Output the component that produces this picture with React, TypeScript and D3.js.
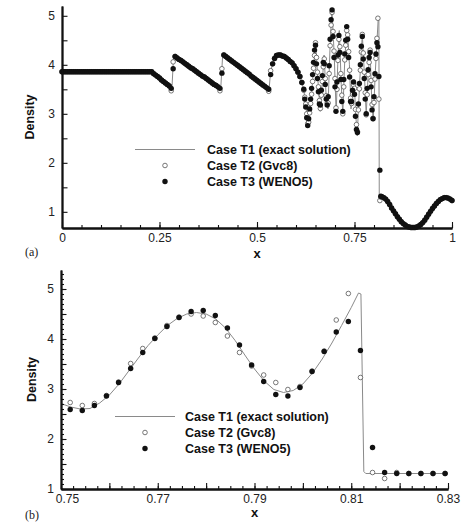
import React, { useEffect, useRef } from 'react';
import * as d3 from 'd3';

// ---------- panel (a): density over the whole tube ----------
// marker samples: head stretch every 0.005 from 0, shock-train stretch every 0.0025 from 0.62,
// tail stretch every 0.005 from 0.82
const headStart = 0, headStep = 0.005;
const midStart = 0.62, midStep = 0.0025;
const tailStart = 0.82, tailStep = 0.005;

const gvcHead = [
  3.857, 3.857, 3.857, 3.857, 3.857, 3.857, 3.857, 3.857, 3.857, 3.857,
  3.857, 3.857, 3.857, 3.857, 3.857, 3.857, 3.857, 3.857, 3.857, 3.857,
  3.857, 3.857, 3.857, 3.857, 3.857, 3.857, 3.857, 3.857, 3.857, 3.857,
  3.857, 3.857, 3.857, 3.857, 3.857, 3.857, 3.857, 3.857, 3.857, 3.857,
  3.857, 3.857, 3.857, 3.857, 3.857, 3.857, 3.857,
  3.82, 3.79, 3.76, 3.73, 3.69, 3.66, 3.63, 3.60, 3.57, 3.47, 4.06,
  4.17, 4.14, 4.11, 4.09, 4.06, 4.03, 4.00, 3.97, 3.94, 3.92, 3.89, 3.86,
  3.83, 3.80, 3.77, 3.75, 3.72, 3.69, 3.66, 3.63, 3.60, 3.58, 3.55, 3.47,
  3.92,
  4.20, 4.17, 4.14, 4.11, 4.08, 4.05, 4.02, 3.99, 3.96, 3.93, 3.90, 3.87,
  3.84, 3.81, 3.77, 3.74, 3.71, 3.68, 3.65, 3.62, 3.59, 3.56, 3.53, 3.46,
  3.88,
  4.02, 4.13, 4.19, 4.20, 4.20, 4.18, 4.17, 4.14, 4.11, 4.07, 4.04, 3.98,
  3.92, 3.85, 3.76, 3.64,
];
const wenoHead = [
  3.857, 3.857, 3.857, 3.857, 3.857, 3.857, 3.857, 3.857, 3.857, 3.857,
  3.857, 3.857, 3.857, 3.857, 3.857, 3.857, 3.857, 3.857, 3.857, 3.857,
  3.857, 3.857, 3.857, 3.857, 3.857, 3.857, 3.857, 3.857, 3.857, 3.857,
  3.857, 3.857, 3.857, 3.857, 3.857, 3.857, 3.857, 3.857, 3.857, 3.857,
  3.857, 3.857, 3.857, 3.857, 3.857, 3.857, 3.857,
  3.82, 3.79, 3.76, 3.73, 3.69, 3.66, 3.63, 3.60, 3.57, 3.52, 3.92,
  4.17, 4.14, 4.11, 4.09, 4.06, 4.03, 4.00, 3.97, 3.94, 3.92, 3.89, 3.86,
  3.83, 3.80, 3.77, 3.75, 3.72, 3.69, 3.66, 3.63, 3.60, 3.58, 3.55, 3.52,
  3.83,
  4.20, 4.17, 4.14, 4.11, 4.08, 4.05, 4.02, 3.99, 3.96, 3.93, 3.90, 3.87,
  3.84, 3.81, 3.77, 3.74, 3.71, 3.68, 3.65, 3.62, 3.59, 3.56, 3.53, 3.50,
  3.80,
  4.02, 4.13, 4.19, 4.20, 4.20, 4.18, 4.17, 4.14, 4.11, 4.07, 4.04, 3.98,
  3.92, 3.85, 3.76, 3.64,
];
const gvcMid = [
  3.48, 3.34, 3.20, 3.00, 2.80, 2.83, 3.02, 3.21, 3.40, 3.66,
  3.93, 4.19, 4.45, 4.15, 3.85, 3.55, 3.27, 3.11, 3.38, 3.66,
  3.96, 4.12, 3.72, 3.37, 3.22, 3.22, 3.82, 4.39, 4.81, 5.07,
  4.68, 4.28, 3.72, 3.12, 3.50, 4.09, 4.52, 4.37, 3.82, 3.38,
  3.00, 3.55, 4.10, 4.40, 4.70, 4.61, 4.27, 3.89, 3.32, 3.21,
  3.40, 3.59, 3.52, 3.09, 2.78, 2.64, 3.08, 3.51, 3.89, 4.26,
  4.62, 4.24, 3.85, 3.43, 2.98, 3.39, 3.80, 4.05, 4.30, 3.68,
  3.19, 2.91, 3.23, 3.71, 4.13, 4.54, 4.95, 3.30, 1.23, 1.30,
];
const wenoMid = [
  3.50, 3.30, 3.14, 2.92, 2.76, 2.90, 3.10, 3.30, 3.52, 3.80,
  4.05, 4.30, 4.40, 4.02, 3.72, 3.45, 3.20, 3.18, 3.48, 3.78,
  4.05, 4.02, 3.60, 3.30, 3.18, 3.35, 3.98, 4.52, 4.92, 5.12,
  4.58, 4.15, 3.55, 3.05, 3.65, 4.20, 4.60, 4.25, 3.70, 3.25,
  3.05, 3.70, 4.22, 4.50, 4.78, 4.52, 4.15, 3.75, 3.25, 3.25,
  3.48, 3.65, 3.40, 2.95, 2.68, 2.62, 3.20, 3.62, 4.00, 4.38,
  4.58, 4.12, 3.72, 3.30, 3.00, 3.52, 3.90, 4.15, 4.25, 3.55,
  3.08, 2.90, 3.35, 3.82, 4.22, 4.45, 4.37, 3.76, 1.85, 1.32,
];
const gvcTail = [
  1.31, 1.29, 1.26, 1.21, 1.15, 1.08, 1.02, 0.96, 0.90, 0.85,
  0.80, 0.76, 0.73, 0.70, 0.69, 0.68, 0.68, 0.68, 0.69, 0.71,
  0.74, 0.78, 0.83, 0.89, 0.95, 1.01, 1.07, 1.12, 1.17, 1.21,
  1.25, 1.27, 1.29, 1.29, 1.28, 1.26, 1.23,
];
const wenoTail = [
  1.31, 1.29, 1.26, 1.21, 1.15, 1.08, 1.02, 0.96, 0.90, 0.85,
  0.80, 0.76, 0.73, 0.70, 0.69, 0.68, 0.68, 0.68, 0.69, 0.71,
  0.74, 0.78, 0.83, 0.89, 0.95, 1.01, 1.07, 1.12, 1.17, 1.21,
  1.25, 1.27, 1.29, 1.29, 1.28, 1.26, 1.23,
];
// exact solution, read as a polyline
const exactAX = [
  0, 0.232, 0.282, 0.286, 0.407, 0.412, 0.531, 0.535, 0.545, 0.555, 0.565, 0.58,
  0.59, 0.6, 0.61, 0.615, 0.62, 0.625, 0.631, 0.64, 0.65, 0.657, 0.662, 0.667,
  0.672, 0.677, 0.682, 0.687, 0.692, 0.698, 0.703, 0.707, 0.711, 0.716, 0.72,
  0.725, 0.731, 0.737, 0.741, 0.745, 0.749, 0.753, 0.757, 0.763, 0.77, 0.776,
  0.78, 0.785, 0.79, 0.794, 0.798, 0.803, 0.811, 0.8125, 0.8135, 0.82, 0.83,
  0.84, 0.85, 0.86, 0.87, 0.88, 0.89, 0.9, 0.91, 0.92, 0.93, 0.94, 0.95, 0.96,
  0.97, 0.98, 0.99, 1,
];
const exactAY = [
  3.857, 3.857, 3.53, 4.17, 3.51, 4.2, 3.49, 3.88, 4.13, 4.2, 4.18, 4.11,
  4.04, 3.92, 3.76, 3.64, 3.48, 3.2, 2.72, 3.4, 4.45, 3.6, 3.05, 3.6,
  4.2, 3.4, 3.1, 4.3, 5.15, 4.2, 3.0, 4.0, 4.7, 3.6, 3.0,
  4.1, 4.82, 4.0, 3.1, 3.4, 3.7, 3.0, 2.55, 3.6, 4.62, 3.7,
  2.98, 3.8, 4.3, 3.3, 2.85, 3.8, 4.97, 4.97, 1.32, 1.31, 1.26,
  1.15, 1.02, 0.9, 0.8, 0.73, 0.69, 0.68, 0.69, 0.74, 0.83, 0.95, 1.07, 1.17,
  1.25, 1.29, 1.28, 1.23,
];

// ---------- panel (b): close-up 0.75..0.83 ----------
const closeStart = 0.7519, closeStep = 0.0025;
const gvcClose = [
  2.73, 2.67, 2.71, 2.87, 3.14, 3.51, 3.81, 4.02, 4.27, 4.44, 4.50, 4.46,
  4.33, 4.06, 3.73, 3.46, 3.28, 3.13, 2.99, 3.05, 3.36, 3.76, 4.38, 4.91,
  3.23, 1.33, 1.21, 1.33, 1.31, 1.31, 1.31, 1.31,
];
const wenoClose = [
  2.59, 2.57, 2.67, 2.86, 3.13, 3.41, 3.73, 4.01, 4.25, 4.43, 4.55, 4.57,
  4.47, 4.22, 3.88, 3.48, 3.15, 2.89, 2.86, 3.03, 3.35, 3.75, 4.14, 4.35,
  3.77, 1.83, 1.33, 1.31, 1.31, 1.31, 1.31, 1.31,
];
const exactBX = [
  0.75, 0.752, 0.754, 0.756, 0.758, 0.76, 0.762, 0.764, 0.766, 0.768, 0.77,
  0.772, 0.774, 0.776, 0.778, 0.78, 0.782, 0.784, 0.786, 0.788, 0.79, 0.792,
  0.794, 0.796, 0.798, 0.8, 0.802, 0.804, 0.806, 0.808, 0.81, 0.8115, 0.812,
  0.8126, 0.813, 0.83,
];
const exactBY = [
  2.71, 2.64, 2.6, 2.61, 2.72, 2.88, 3.1, 3.36, 3.62, 3.87, 4.08,
  4.27, 4.41, 4.5, 4.53, 4.5, 4.4, 4.22, 3.97, 3.68, 3.4, 3.16,
  2.99, 2.93, 2.97, 3.1, 3.32, 3.6, 3.92, 4.27, 4.63, 4.92, 4.9,
  1.35, 1.31, 1.31,
];

const legendLabels = ['Case T1 (exact solution)', 'Case T2 (Gvc8)', 'Case T3 (WENO5)'];

const sans = 'Liberation Sans, Arial, Helvetica, sans-serif';

const onGrid = (start: number, step: number, vals: number[]) =>
  vals.map((v, i) => [start + i * step, v] as [number, number]);

function drawPanel(svg: any, o: any) {
  const x = d3.scaleLinear().domain(o.xDomain).range(o.xRange);
  const y = d3.scaleLinear().domain(o.yDomain).range(o.yRange);
  const g = svg.append('g');

  // exact line
  const line = d3.line<[number, number]>().x(d => x(d[0])).y(d => y(d[1]));
  g.append('path')
    .datum(o.exactX.map((v: number, i: number) => [v, o.exactY[i]]))
    .attr('fill', 'none')
    .attr('stroke', '#8a8a8a')
    .attr('stroke-width', 1)
    .attr('d', line);

  g.append('g').selectAll('circle')
    .data(o.gvc)
    .join('circle')
    .attr('cx', (d: any) => x(d[0]))
    .attr('cy', (d: any) => y(d[1]))
    .attr('r', 2.3)
    .attr('fill', '#fff')
    .attr('stroke', '#555')
    .attr('stroke-width', 0.8);

  g.append('g').selectAll('circle')
    .data(o.weno)
    .join('circle')
    .attr('cx', (d: any) => x(d[0]))
    .attr('cy', (d: any) => y(d[1]))
    .attr('r', 2.7)
    .attr('fill', '#111');

  // axes, ticks pointing inward
  const x0 = o.xRange[0], y0 = o.yRange[0];
  const styleAxis = (a: any) => {
    a.select('.domain').attr('stroke', '#111').attr('stroke-width', 1.8);
    a.selectAll('.tick line').attr('stroke', '#111').attr('stroke-width', 1.1);
    a.selectAll('text').attr('font-family', sans).attr('font-size', 12).attr('fill', '#222');
  };
  svg.append('g').attr('transform', `translate(0,${y0})`)
    .call(d3.axisBottom(x).tickValues(o.xMinor).tickSize(-3).tickSizeOuter(0).tickFormat(() => ''))
    .call(styleAxis);
  const xAx = svg.append('g').attr('transform', `translate(0,${y0})`)
    .call(d3.axisBottom(x).tickValues(o.xMajor).tickSize(-6).tickSizeOuter(0).tickPadding(o.xPad)
      .tickFormat((d: any) => (o.xLabels.some((l: number) => Math.abs(l - d) < 1e-9) ? o.xFmt(d) : '')))
    .call(styleAxis);
  // first label sits a little to the right of its tick, as in the print
  xAx.select('.tick text').attr('x', o.firstShift || 0);
  svg.append('g').attr('transform', `translate(${x0},0)`)
    .call(d3.axisLeft(y).tickValues(o.yMinor).tickSize(-3).tickSizeOuter(0).tickFormat(() => ''))
    .call(styleAxis);
  svg.append('g').attr('transform', `translate(${x0},0)`)
    .call(d3.axisLeft(y).tickValues(o.yMajor).tickSize(-5.5).tickSizeOuter(0).tickPadding(7)
      .tickFormat((d: any) => (Number.isInteger(d) ? String(d) : '')))
    .call(styleAxis);

  // titles
  const cx = (o.xRange[0] + o.xRange[1]) / 2;
  svg.append('text').attr('x', cx).attr('y', o.xTitleY).attr('text-anchor', 'middle')
    .attr('font-family', sans).attr('font-weight', 'bold').attr('font-size', 13).attr('fill', '#111').text('x');
  const cy = (o.yRange[0] + o.yRange[1]) / 2;
  svg.append('text').attr('transform', `translate(${o.yTitleX},${cy}) rotate(-90)`)
    .attr('text-anchor', 'middle').attr('font-family', sans).attr('font-weight', 'bold')
    .attr('font-size', 12.5).attr('fill', '#111').text('Density');
  svg.append('text').attr('x', 25).attr('y', o.tagY)
    .attr('font-family', 'Liberation Serif, Times New Roman, serif').attr('font-size', 12).attr('fill', '#222')
    .text(o.tag);

  // legend
  const L = o.legend;
  const lg = svg.append('g');
  lg.append('line').attr('x1', L.x1).attr('x2', L.x2).attr('y1', L.y).attr('y2', L.y)
    .attr('stroke', '#8a8a8a').attr('stroke-width', 1.2);
  lg.append('circle').attr('cx', (L.x1 + L.x2) / 2).attr('cy', L.y + 16).attr('r', 2.3)
    .attr('fill', '#fff').attr('stroke', '#555').attr('stroke-width', 0.8);
  lg.append('circle').attr('cx', (L.x1 + L.x2) / 2).attr('cy', L.y + 32).attr('r', 2.7).attr('fill', '#111');
  lg.selectAll('text').data(legendLabels).join('text')
    .attr('x', L.tx).attr('y', (_: any, i: number) => L.y + 4.5 + i * 16)
    .attr('font-family', sans).attr('font-weight', 'bold').attr('font-size', 12.5).attr('fill', '#111')
    .text((d: string) => d);
}

export default function App() {
  const ref = useRef<SVGSVGElement>(null);

  useEffect(() => {
    const svg = d3.select(ref.current);
    svg.selectAll('*').remove();

    drawPanel(svg, {
      xDomain: [0, 1], xRange: [62, 452],
      yDomain: [0.67, 5.2], yRange: [228, 6],
      gvc: [...onGrid(headStart, headStep, gvcHead), ...onGrid(midStart, midStep, gvcMid), ...onGrid(tailStart, tailStep, gvcTail)],
      weno: [...onGrid(headStart, headStep, wenoHead), ...onGrid(midStart, midStep, wenoMid), ...onGrid(tailStart, tailStep, wenoTail)],
      exactX: exactAX, exactY: exactAY,
      xMajor: [0, 0.25, 0.5, 0.75, 1], xLabels: [0, 0.25, 0.5, 0.75, 1],
      xMinor: d3.range(0, 1.0001, 0.05),
      xFmt: (d: number) => String(d),
      xPad: 5.5,
      yMajor: [1, 1.5, 2, 2.5, 3, 3.5, 4, 4.5, 5], yMinor: [],
      xTitleY: 258, yTitleX: 34, tag: '(a)', tagY: 256,
      legend: { x1: 135, x2: 195, y: 149.5, tx: 207 },
    });

    drawPanel(svg, {
      xDomain: [0.75, 0.83], xRange: [61, 448],
      yDomain: [1, 5.38], yRange: [489, 270],
      gvc: onGrid(closeStart, closeStep, gvcClose),
      weno: onGrid(closeStart, closeStep, wenoClose),
      exactX: exactBX, exactY: exactBY,
      xMajor: d3.range(0, 9).map(i => 0.75 + i * 0.01),
      xLabels: [0.75, 0.77, 0.79, 0.81, 0.83],
      xMinor: d3.range(0, 33).map(i => 0.75 + i * 0.0025),
      xFmt: (d: number) => d.toFixed(2),
      xPad: 5,
      firstShift: 6,
      yMajor: [1, 1.5, 2, 2.5, 3, 3.5, 4, 4.5, 5],
      yMinor: d3.range(10, 54).map(i => i / 10),
      xTitleY: 517, yTitleX: 36, tag: '(b)', tagY: 519,
      legend: { x1: 115, x2: 175, y: 416.5, tx: 185 },
    });
  }, []);

  return (
    <svg ref={ref} width={468} height={524}
      style={{ position: 'absolute', left: 0, top: 0, background: '#fff' }} />
  );
}
